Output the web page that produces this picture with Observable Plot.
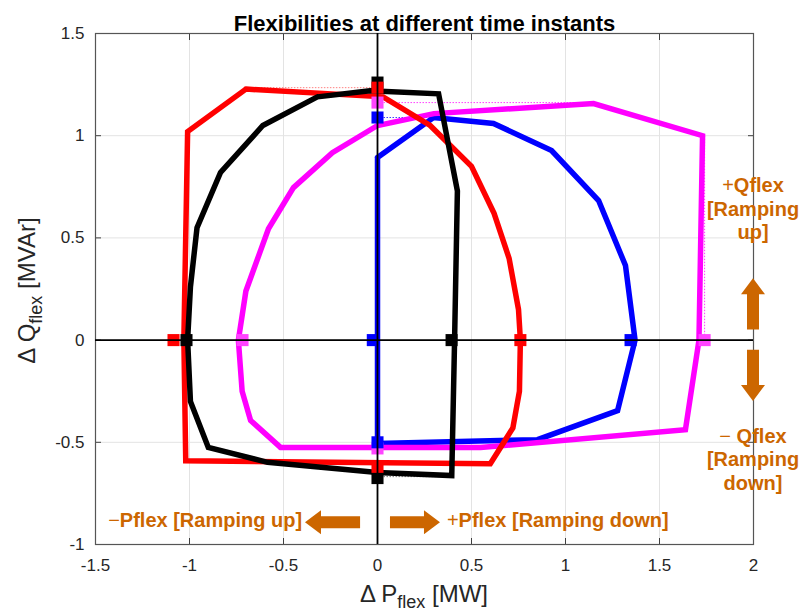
<!DOCTYPE html>
<html>
<head>
<meta charset="utf-8">
<script src="https://cdn.jsdelivr.net/npm/d3@7"></script>
<script src="https://cdn.jsdelivr.net/npm/@observablehq/plot@0.6"></script>
<style>
  body { margin: 0; background: #fff; }
  svg { font-family: "Liberation Sans", Arial, Helvetica, sans-serif; }
</style>
</head>
<body>
<div id="chart"></div>
<script>
// Axis ticks
const xTicks = [-1.5, -1, -0.5, 0, 0.5, 1, 1.5, 2];
const yTicks = [-1, -0.5, 0, 0.5, 1, 1.5];

// Flexibility regions (ΔP in MW, ΔQ in MVAr), one closed polygon per time instant
const blueP = [0, 0.298, 0.617, 0.926, 1.176, 1.319, 1.37, 1.277, 0.851, 0];
const blueQ = [0.893, 1.089, 1.06, 0.927, 0.683, 0.365, 0.0, -0.345, -0.487, -0.506];

const magentaP = [-0.516, -0.675, -0.72, -0.74, -0.70, -0.58, -0.447, -0.24, 0, 0.30, 1.149, 1.729, 1.71, 1.638, 0.548];
const magentaQ = [-0.525, -0.393, -0.25, 0, 0.24, 0.545, 0.746, 0.917, 1.05, 1.108, 1.157, 1.0, 0.0, -0.438, -0.526];

const redP = [-0.70, 0.03, 0.28, 0.50, 0.62, 0.70, 0.75, 0.76, 0.755, 0.72, 0.60, -1.02, -1.03, -1.01];
const redQ = [1.228, 1.19, 1.05, 0.85, 0.62, 0.40, 0.15, 0.0, -0.25, -0.43, -0.605, -0.59, 0.0, 1.02];

const blackP = [-0.32, -0.04, 0.325, 0.425, 0.41, 0.395, 0, -0.585, -0.90, -0.995, -1.01, -0.995, -0.96, -0.835, -0.61];
const blackQ = [1.19, 1.22, 1.205, 0.73, 0.0, -0.663, -0.648, -0.598, -0.525, -0.30, 0.0, 0.26, 0.55, 0.82, 1.05];

// Intercepts with the ΔP axis (ΔQ = 0) and the ΔQ axis (ΔP = 0)
const blackPcut = [-1.016, 0.394], blackQcut = [1.26, -0.675];
const redPcut = [-1.085, 0.76], redQcut = [1.235, -0.62];
const magentaPcut = [-0.718, 1.74], magentaQcut = [1.162, -0.53];
const bluePcut = [-0.025, 1.346], blueQcut = [1.089, -0.50];

const series = [
  {name: "blue", color: "#0000ff", mark: "#0000ff", P: blueP, Q: blueQ, Pcut: bluePcut, Qcut: blueQcut},
  {name: "magenta", color: "#ff00ff", mark: "#ff44ff", P: magentaP, Q: magentaQ, Pcut: magentaPcut, Qcut: magentaQcut},
  {name: "red", color: "#ff0000", mark: "#ff0000", P: redP, Q: redQ, Pcut: redPcut, Qcut: redQcut},
  {name: "black", color: "#000000", mark: "#000000", P: blackP, Q: blackQ, Pcut: blackPcut, Qcut: blackQcut}
];

// Thin dotted guides from an intercept to the extreme point of its region
const guideP1 = [-0.70, 0, 0, 0, 1.74];
const guideQ1 = [1.235, 1.162, 1.089, -0.668, 1.0];
const guideP2 = [0, 1.149, 0.298, 0.385, 1.74];
const guideQ2 = [1.235, 1.162, 1.089, -0.668, 0];
const guideColor = ["#ff8080", "#ff40ff", "#4040ff", "#808080", "#ff40ff"];

// Direction annotations
const orange = "#cc6600";
const arrowFromP = [2, 2, -0.09, 0.069];
const arrowFromQ = [0.05, -0.05, -0.893, -0.893];
const arrowToP = [2, 2, -0.383, 0.335];
const arrowToQ = [0.30, -0.30, -0.893, -0.893];

const polygons = series.map(s => {
  const pts = s.P.map((p, i) => ({P: p, Q: s.Q[i], name: s.name}));
  pts.push(pts[0]);
  return {s, pts};
});

const markerOrder = ["black", "red", "magenta", "blue"];
const markers = markerOrder.flatMap(n => {
  const s = series.find(d => d.name === n);
  return [
    ...s.Pcut.map(p => ({P: p, Q: 0, fill: s.mark})),
    ...s.Qcut.map(q => ({P: 0, Q: q, fill: s.mark}))
  ];
});

const guides = guideP1.map((p, i) => ({x1: p, y1: guideQ1[i], x2: guideP2[i], y2: guideQ2[i], c: guideColor[i]}));

const plot = Plot.plot({
  width: 799,
  height: 615,
  marginLeft: 95,
  marginRight: 46,
  marginTop: 33,
  marginBottom: 71,
  x: {domain: [-1.5, 2]},
  y: {domain: [-1, 1.5]},
  style: {fontFamily: '"Liberation Sans", Arial, sans-serif', fontSize: "17px", color: "#262626", background: "white", overflow: "visible"},
  marks: [
    Plot.gridX(xTicks, {stroke: "#e3e3e3", strokeOpacity: 1}),
    Plot.gridY(yTicks, {stroke: "#e3e3e3", strokeOpacity: 1}),
    Plot.axisX(xTicks, {anchor: "bottom", tickSize: 0, tickPadding: 14, tickFormat: d => String(d), label: null, fontSize: 17, fill: "#262626"}),
    Plot.axisX(xTicks, {anchor: "bottom", tickSize: -6, tickFormat: () => "", label: null, stroke: "#404040"}),
    Plot.axisX(xTicks, {anchor: "top", tickSize: -6, tickFormat: () => "", label: null, stroke: "#404040"}),
    Plot.axisY(yTicks, {anchor: "left", tickSize: 0, tickPadding: 11, tickFormat: d => String(d), label: null, fontSize: 17, fill: "#262626"}),
    Plot.axisY(yTicks, {anchor: "left", tickSize: -6, tickFormat: () => "", label: null, stroke: "#404040"}),
    Plot.axisY(yTicks, {anchor: "right", tickSize: -6, tickFormat: () => "", label: null, stroke: "#404040"}),
    Plot.frame({stroke: "#555555", strokeWidth: 1.2}),
    Plot.link(guides, {x1: "x1", y1: "y1", x2: "x2", y2: "y2", stroke: d => d.c, strokeWidth: 1, strokeDasharray: "1.5,1.5"}),
    ...polygons.map(({s, pts}) =>
      Plot.line(pts, {x: "P", y: "Q", stroke: s.color, strokeWidth: 5.5, strokeLinejoin: "miter", strokeMiterlimit: 4, curve: "linear"})
    ),
    Plot.dot(markers, {x: "P", y: "Q", symbol: "square", r: 6.8, fill: d => d.fill, stroke: null}),
    Plot.ruleX([0], {stroke: "black", strokeWidth: 1.8}),
    Plot.ruleY([0], {stroke: "black", strokeWidth: 1.8}),
    Plot.text(["Flexibilities at different time instants"], {frameAnchor: "top", dy: -18, fontWeight: "bold", fontSize: 22, fill: "black"})
  ]
});

document.getElementById("chart").appendChild(plot);

const svg = d3.select(plot);
const sx = plot.scale("x"), sy = plot.scale("y");
const X = v => sx.apply(v), Y = v => sy.apply(v);

// Block arrows
const shaft = 12, headW = 24, headL = 16;
arrowFromP.forEach((_, i) => {
  const x0 = X(arrowFromP[i]), y0 = Y(arrowFromQ[i]);
  const x1 = X(arrowToP[i]), y1 = Y(arrowToQ[i]);
  const len = Math.hypot(x1 - x0, y1 - y0);
  const ux = (x1 - x0) / len, uy = (y1 - y0) / len;
  const nx = -uy, ny = ux;
  const bx = x1 - ux * headL, by = y1 - uy * headL;
  const pts = [
    [x0 + nx * shaft / 2, y0 + ny * shaft / 2],
    [bx + nx * shaft / 2, by + ny * shaft / 2],
    [bx + nx * headW / 2, by + ny * headW / 2],
    [x1, y1],
    [bx - nx * headW / 2, by - ny * headW / 2],
    [bx - nx * shaft / 2, by - ny * shaft / 2],
    [x0 - nx * shaft / 2, y0 - ny * shaft / 2]
  ];
  svg.append("polygon").attr("points", pts.map(p => p.join(",")).join(" ")).attr("fill", orange);
});

// Annotation text: a thin sign followed by bold words
function note(x, y, anchor, lines) {
  const t = svg.append("text")
    .attr("x", x).attr("y", y)
    .attr("text-anchor", anchor)
    .attr("fill", orange)
    .attr("font-size", 20)
    .attr("font-weight", "bold")
    .attr("dominant-baseline", "middle");
  lines.forEach((ln, i) => {
    const [sign, rest] = ln;
    const first = t.append("tspan").attr("x", x).attr("dy", i === 0 ? 0 : 23.5);
    if (sign) {
      first.attr("font-weight", "normal").text(sign);
      t.append("tspan").text(rest);
    } else {
      first.text(rest);
    }
  });
}
note(X(2), Y(0.745), "middle", [["+", "Qflex"], [null, "[Ramping"], [null, "up]"]]);
note(X(2), Y(-0.48), "middle", [["− ", "Qflex"], [null, "[Ramping"], [null, "down]"]]);
note(X(-1.43), Y(-0.893), "start", [["−", "Pflex [Ramping up]"]]);
note(X(0.372), Y(-0.893), "start", [["+", "Pflex [Ramping down]"]]);

// Axis titles with subscripts
const xl = svg.append("text")
  .attr("x", X(0.25)).attr("y", 602)
  .attr("text-anchor", "middle").attr("font-size", 24).attr("fill", "#262626");
xl.append("tspan").text("Δ P");
xl.append("tspan").attr("dy", 6).attr("font-size", 18).text("flex");
xl.append("tspan").attr("dy", -6).text(" [MW]");

const yl = svg.append("text")
  .attr("transform", `translate(35,${Y(0.24)}) rotate(-90)`)
  .attr("text-anchor", "middle").attr("font-size", 24).attr("fill", "#262626");
yl.append("tspan").text("Δ Q");
yl.append("tspan").attr("dy", 7).attr("font-size", 18).text("flex");
yl.append("tspan").attr("dy", -7).text(" [MVAr]");
</script>
</body>
</html>
